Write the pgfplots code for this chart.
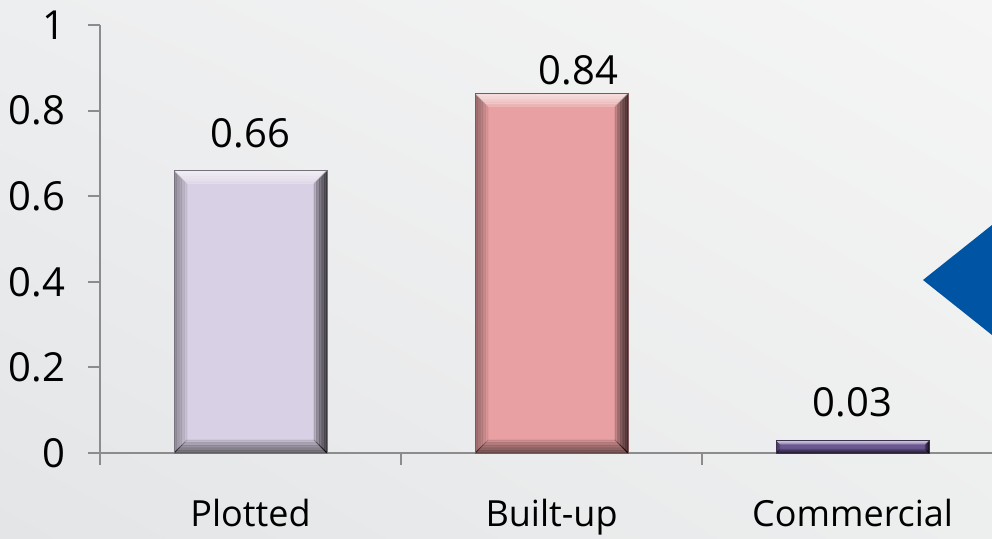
\documentclass[border=0pt]{standalone}
\usepackage{fontspec}
\setmainfont{Open Sans}
\usepackage{pgfplots}
\pgfplotsset{compat=1.18}
\usetikzlibrary{shadings}

\definecolor{bgTL}{HTML}{EDEEEF}
\definecolor{bgTR}{HTML}{F5F5F5}
\definecolor{bgBL}{HTML}{E4E5E7}
\definecolor{bgBR}{HTML}{EDEEEE}
\definecolor{axisgray}{HTML}{8C8C8C}
\definecolor{plottedC}{HTML}{D8D0E4}
\definecolor{builtC}{HTML}{E8A0A2}
\definecolor{commC}{HTML}{6B5892}
\definecolor{arrowblue}{HTML}{0054A4}

% bevelled bar face: soft light top edge, darker sides and bottom,
% built from nested translucent frames so the edges fade inwards
\newif\ifinbevel
\def\pp{path picture bounding box}
\tikzset{
  bevel/.style={path picture={%
    \ifinbevel\else\inbeveltrue
    \foreach \f in {0.2,0.4,0.6,0.8,1}{%
      \pgfmathsetlengthmacro{\d}{\f*#1}
      \fill[black,opacity=0.07] (\pp.north west) -- ([shift={(\d,-\d)}]\pp.north west)
          -- ([shift={(\d,\d)}]\pp.south west) -- (\pp.south west) -- cycle;
      \fill[black,opacity=0.17] (\pp.north east) -- ([shift={(-\d,-\d)}]\pp.north east)
          -- ([shift={(-\d,\d)}]\pp.south east) -- (\pp.south east) -- cycle;
      \fill[black,opacity=0.11] (\pp.south west) -- ([shift={(\d,\d)}]\pp.south west)
          -- ([shift={(-\d,\d)}]\pp.south east) -- (\pp.south east) -- cycle;
      \fill[white,opacity=0.18] (\pp.north west) -- (\pp.north east)
          -- ([shift={(-\d,-\d)}]\pp.north east) -- ([shift={(\d,-\d)}]\pp.north west) -- cycle;
    }
    \fi
  }}
}

\begin{document}
\begin{tikzpicture}
\shade[upper left=bgTL, upper right=bgTR, lower left=bgBL, lower right=bgBR]
  (0,0) rectangle (496pt,269pt);
\useasboundingbox (0,0) rectangle (496pt,269pt);

\begin{axis}[
  at={(50pt,42.5pt)}, anchor=south west,
  width=446pt, height=214pt, scale only axis,
  xmin=-0.5, xmax=2.463, ymin=0, ymax=1,
  axis x line=bottom, axis y line=left,
  axis line style={-, draw=axisgray, line width=1pt},
  tick style={draw=axisgray, line width=1pt},
  tick align=outside, major tick length=6pt,
  ytick={0,0.2,0.4,0.6,0.8,1},
  xtick={-0.5,0.5,1.5}, xticklabels={},
  extra x ticks={0,1,2},
  extra x tick labels={Plotted,Built-up,Commercial},
  extra x tick style={major tick length=0pt, tick style={draw=none}},
  /pgf/number format/assume math mode=true,
  tick label style={text=black},
  yticklabel style={font=\fontsize{20}{24}\selectfont, xshift=-7.8pt},
  xticklabel style={font=\fontsize{18}{22}\selectfont, yshift=-19.5pt},
  clip=false,
  nodes near coords={\pgfmathprintnumber[fixed,fixed zerofill,precision=2,assume math mode=true]{\pgfplotspointmeta}},
  every node near coord/.append style={font=\fontsize{20}{24}\selectfont, text=black, anchor=south, yshift=7.8pt},
]
\addplot[ybar, bar width=76.5pt, bar shift=0pt, fill=plottedC, draw=plottedC!55!black, line width=0.4pt, bevel=6.5pt]
  coordinates {(0,0.66)};
\addplot[ybar, bar width=76.5pt, bar shift=0pt, fill=builtC, draw=builtC!55!black, line width=0.4pt, bevel=6.5pt,
  every node near coord/.append style={yshift=-7pt, xshift=13.5pt}]
  coordinates {(1,0.84)};
\addplot[ybar, bar width=76.5pt, bar shift=0pt, fill=commC, draw=commC!55!black, line width=0.4pt, bevel=2pt]
  coordinates {(2,0.03)};
\end{axis}

\fill[arrowblue] (461.5pt,129pt) -- (496pt,156.5pt) -- (496pt,101.5pt) -- cycle;
\end{tikzpicture}
\end{document}
